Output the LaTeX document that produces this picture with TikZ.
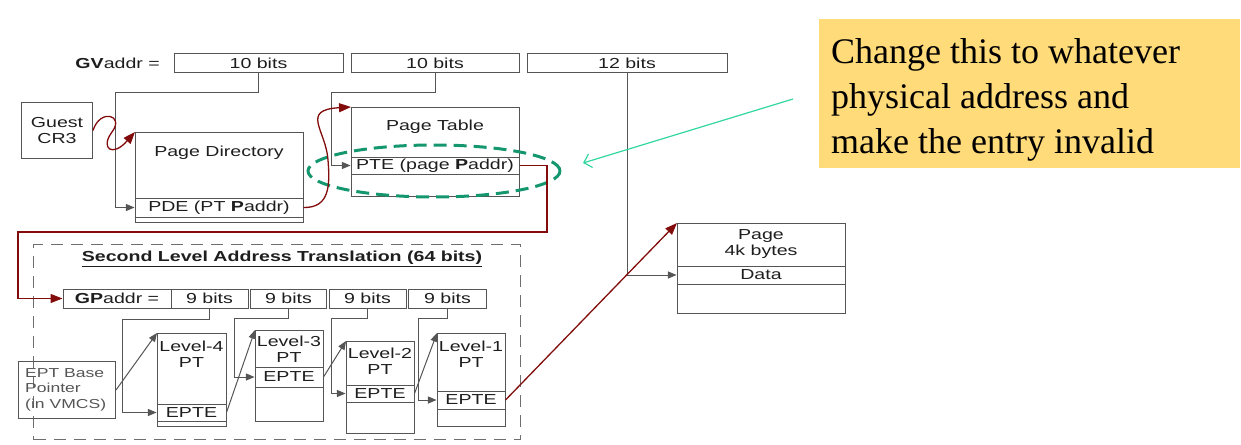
\documentclass[tikz,border=0pt]{standalone}
\usepackage{fontspec}
\setmainfont{Liberation Serif}
\newfontfamily\diagfont[FakeStretch=1.35]{Liberation Sans}
\usepackage{tikz}
\usetikzlibrary{shapes,arrows,arrows.meta}
\usetikzlibrary{positioning}
\definecolor{boxgray}{RGB}{85,85,85}
\definecolor{textgray}{RGB}{30,30,30}
\definecolor{darkred}{RGB}{130,12,12}
\definecolor{selgreen}{RGB}{20,150,110}
\definecolor{hintgreen}{RGB}{50,215,160}
\definecolor{notefill}{RGB}{255,219,122}
\newcommand{\dfont}{\diagfont\fontsize{14.5}{16}\selectfont}
\tikzstyle{bitfield} = [rectangle, draw=boxgray, line width=1pt,
    minimum height=18pt, inner sep=0pt, text=textgray, font=\dfont]
\tikzstyle{tablebox} = [rectangle, draw=boxgray, line width=1pt,
    anchor=north west, inner sep=0pt]
\tikzstyle{entryrow} = [rectangle, draw=boxgray, line width=1pt,
    inner sep=0pt, text=textgray, font=\dfont]
\tikzstyle{heading} = [align=center, inner sep=0pt, text=textgray, font=\dfont]
\tikzstyle{slaframe} = [rectangle, draw=boxgray!85, line width=1.1pt,
    dash pattern=on 12pt off 8pt, anchor=north west]
\tikzstyle{line} = [draw, boxgray, line width=1pt, -triangle 45]
\tikzstyle{ptr} = [draw, darkred, line width=1.3pt, -{Triangle[length=12pt,width=9pt]}]
\tikzstyle{hint} = [draw, hintgreen, line width=1.2pt, -{Straight Barb[length=7pt,width=14pt]}]

\begin{document}
\begin{tikzpicture}[x=1pt, y=-1pt]
  \useasboundingbox (0,0) rectangle (1241,444);
  % Place nodes
  \node [slaframe, minimum width=487pt, minimum height=195pt] (sla) at (33,244) {};
  \node [heading, font=\dfont\bfseries] (slaname) at (282,259)
    {\underline{Second Level Address Translation (64 bits)}};

  \node [heading, anchor=east] (gvaddr) at (160,63) {\textbf{GV}addr =};
  \node [bitfield, minimum width=169pt] (gv1) at (258.5,63) {10 bits};
  \node [bitfield, minimum width=168pt, right=7pt of gv1] (gv2) {10 bits};
  \node [bitfield, minimum width=200pt, right=7pt of gv2] (gv3) {12 bits};

  \node [tablebox, minimum width=71pt, minimum height=56pt, align=center,
    text=textgray, font=\dfont] (cr3) at (21,102) {Guest\\CR3};

  \node [tablebox, minimum width=168pt, minimum height=90pt] (pd) at (135,132) {};
  \node [heading] (pdname) at (219,153) {Page Directory};
  \node [entryrow, minimum width=168pt, minimum height=19pt] (pde) at (219,207.5)
    {PDE (PT \textbf{P}addr)};

  \node [tablebox, minimum width=168pt, minimum height=89pt] (pt) at (351,107) {};
  \node [heading] (ptname) at (435,127) {Page Table};
  \node [entryrow, minimum width=168pt, minimum height=17pt] (pte) at (435,165.5)
    {PTE (page \textbf{P}addr)};

  \node [tablebox, minimum width=168pt, minimum height=90pt] (pg) at (677,223) {};
  \node [heading] (pgname) at (761,244) {Page\\4k bytes};
  \node [entryrow, minimum width=168pt, minimum height=18pt] (data) at (761,275) {Data};

  \node [bitfield, minimum width=108pt, minimum height=19pt] (gp) at (117,298.5)
    {\textbf{GP}addr =};
  \node [bitfield, minimum width=77pt, minimum height=19pt, right=-1pt of gp] (gp4) {9 bits};
  \node [bitfield, minimum width=76pt, minimum height=19pt, right=1.5pt of gp4] (gp3) {9 bits};
  \node [bitfield, minimum width=77pt, minimum height=19pt, right=1.5pt of gp3] (gp2) {9 bits};
  \node [bitfield, minimum width=78pt, minimum height=19pt, right=1.5pt of gp2] (gp1) {9 bits};

  \node [tablebox, minimum width=97pt, minimum height=57pt] (ept) at (18,361) {};
  \node [heading, align=left, anchor=west, text=boxgray,
    font=\diagfont\fontsize{13}{15.5}\selectfont] (eptname) at (25,389.5)
    {EPT Base\\Pointer\\(in VMCS)};

  \node [tablebox, minimum width=69pt, minimum height=93pt] (l4) at (157,333) {};
  \node [heading] (l4name) at (191.5,354.5) {Level-4\\PT};
  \node [entryrow, minimum width=69pt, minimum height=17pt] (l4e) at (191.5,412.5) {EPTE};

  \node [tablebox, minimum width=68pt, minimum height=91pt] (l3) at (255,330) {};
  \node [heading] (l3name) at (289,349) {Level-3\\PT};
  \node [entryrow, minimum width=68pt, minimum height=20pt] (l3e) at (289,377) {EPTE};

  \node [tablebox, minimum width=68pt, minimum height=92pt] (l2) at (346,341) {};
  \node [heading] (l2name) at (380,361) {Level-2\\PT};
  \node [entryrow, minimum width=68pt, minimum height=17pt] (l2e) at (380,393.5) {EPTE};

  \node [tablebox, minimum width=68pt, minimum height=93pt] (l1) at (437,333) {};
  \node [heading] (l1name) at (471,354.5) {Level-1\\PT};
  \node [entryrow, minimum width=68pt, minimum height=18pt] (l1e) at (471,400) {EPTE};

  \node [draw=selgreen, line width=3pt, dash pattern=on 13pt off 7pt, ellipse,
    minimum width=252pt, minimum height=52pt] (sel) at (434,171) {};

  \node [rectangle, fill=notefill, anchor=north west, minimum width=421pt,
    minimum height=149pt] (note) at (819,19) {};
  \node [anchor=north west, inner sep=0pt, align=left,
    font=\fontsize{36}{45}\selectfont] (notetext) at (831,38.5)
    {Change this to whatever\\physical address and\\make the entry invalid};
  \coordinate (hintstart) at (793,99);
  \coordinate (hinttip) at (583,163);

  % Draw edges
  \path [line] (gv1.south) |- (115,92) |- (pde.west);
  \path [line] (gv2.south) |- (331,92) |- (pte.west);
  \path [line] (gv3.south) |- (data.west);
  \path [line] (gp4.south) |- (122,319) |- (l4e.west);
  \path [line] (gp3.south) |- (234,318) |- (l3e.west);
  \path [line] (gp2.south) |- (331,318) |- (l2e.west);
  \path [line] (gp1.south) |- (418,318) |- (l1e.west);
  \path [line] (ept.east) -- (l4.north west);
  \path [line] (l4e.east) -- (l3.north west);
  \path [line] (l3e.east) -- (l2.north west);
  \path [line] (l2e.east) -- (l1.north west);
  \path [ptr] (cr3.east) .. controls (100,108) and (125,115) .. (112,132)
    .. controls (100,148) and (112,158) .. (pd.north west);
  \path [ptr] (pde.east) .. controls (330,208) and (330,185) .. (328,160)
    .. controls (326,130) and (300,110) .. (pt.north west);
  \path [ptr] (pte.east) -| (547,232) -- (18,232) |- (gp.west);
  \path [ptr] (l1e.east) -- (pg.north west);
  \path [hint] (hintstart) -- (hinttip);
\end{tikzpicture}
\end{document}
